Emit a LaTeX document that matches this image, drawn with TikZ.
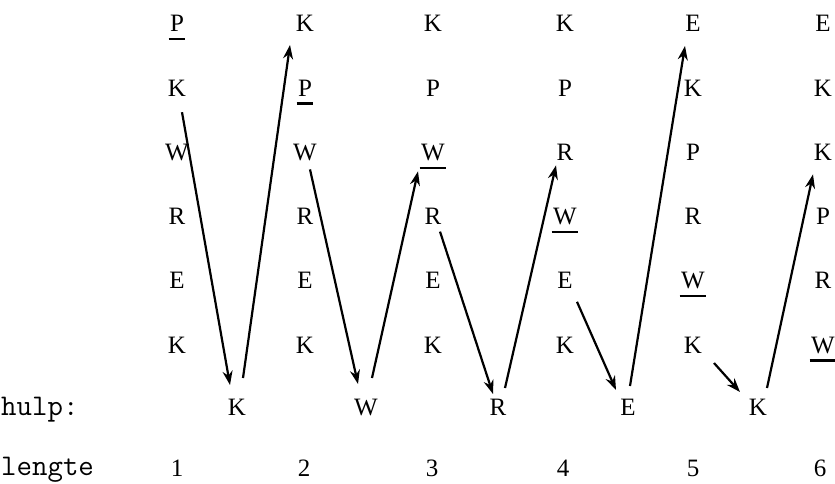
\documentclass[tikz,border=0pt]{standalone}
\usepackage{fontspec}
\setmainfont{Liberation Serif}
\usetikzlibrary{calc,arrows.meta}
\newcommand\ulin[1]{\setbox0\hbox{#1}\rlap{\hspace{-1.5pt}\rule[-8.5pt]{\dimexpr\wd0+3pt\relax}{2.2pt}}#1}
\begin{document}
\begin{tikzpicture}[x=1pt,y=-1pt,
  letter/.style={font=\fontsize{25}{30}\selectfont, inner sep=0pt, text height=16pt, text depth=0pt},
  lbl/.style={font=\ttfamily\fontsize{30}{34}\selectfont, inner sep=0pt, anchor=base west},
  num/.style={font=\fontsize{25}{30}\selectfont, inner sep=0pt, anchor=base},
  arr/.style={line width=2.2pt, -{Stealth[length=14pt,width=10pt]}}]
\useasboundingbox (0,0) rectangle (835,484);
% columns of letters
\foreach [count=\r] \t in {\ulin{P},K,W,R,E,K}
  \node[letter] (c1r\r) at (177,{24+64.2*(\r-1)}) {\t};
\foreach [count=\r] \t in {K,\ulin{P},W,R,E,K}
  \node[letter] (c2r\r) at (305,{24+64.2*(\r-1)}) {\t};
\foreach [count=\r] \t in {K,P,\ulin{W},R,E,K}
  \node[letter] (c3r\r) at (433,{24+64.2*(\r-1)}) {\t};
\foreach [count=\r] \t in {K,P,R,\ulin{W},E,K}
  \node[letter] (c4r\r) at (565,{24+64.2*(\r-1)}) {\t};
\foreach [count=\r] \t in {E,K,P,R,\ulin{W},K}
  \node[letter] (c5r\r) at (693,{24+64.2*(\r-1)}) {\t};
\foreach [count=\r] \t in {E,K,K,P,R,\ulin{W}}
  \node[letter] (c6r\r) at (823,{24+64.2*(\r-1)}) {\t};
% hulp row
\node[lbl] (hulp) at (1,415) {hulp:};
\node[letter] (h1) at (237,407) {K};
\node[letter] (h2) at (366,407) {W};
\node[letter] (h3) at (498,407) {R};
\node[letter] (h4) at (628,407) {E};
\node[letter] (h5) at (758,407) {K};
% lengte row
\node[lbl] (lengte) at (1,475) {lengte};
\node[num] (n1) at (177,476) {1};
\node[num] (n2) at (304,476) {2};
\node[num] (n3) at (432,476) {3};
\node[num] (n4) at (563,476) {4};
\node[num] (n5) at (693,476) {5};
\node[num] (n6) at (820,476) {6};
% arrows
\draw[arr] ($(c1r2)+(5,24)$) -- ($(h1)+(-7,-22)$);
\draw[arr] ($(h1)+(6,-29)$) -- ($(c2r1)+(-15,21)$);
\draw[arr] ($(c2r3)+(5,17)$) -- ($(h2)+(-8,-23)$);
\draw[arr] ($(h2)+(6,-29)$) -- ($(c3r3)+(-15,19)$);
\draw[arr] ($(c3r4)+(7,15)$) -- ($(h3)+(-5,-13)$);
\draw[arr] ($(h3)+(7,-19)$) -- ($(c4r3)+(-9,13)$);
\draw[arr] ($(c4r5)+(12,21)$) -- ($(h4)+(-12,-17)$);
\draw[arr] ($(h4)+(2,-21)$) -- ($(c5r1)+(-8,22)$);
\draw[arr] ($(c5r6)+(21,18)$) -- ($(h5)+(-18,-15)$);
\draw[arr] ($(h5)+(9,-19)$) -- ($(c6r3)+(-10,22)$);
\end{tikzpicture}
\end{document}
